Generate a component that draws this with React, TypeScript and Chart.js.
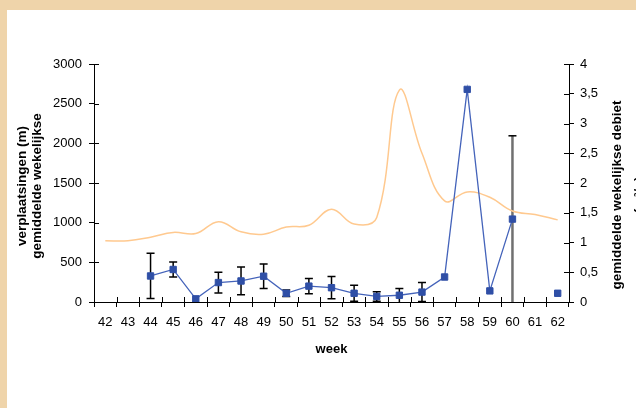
import { useEffect, useRef } from 'react';
import { Chart, registerables } from 'chart.js';
Chart.register(...registerables);

const weeks = ['42', '43', '44', '45', '46', '47', '48', '49', '50', '51', '52', '53', '54', '55', '56', '57', '58', '59', '60', '61', '62'];
const displacement = [null, null, 328, 410, 40, 245, 265, 325, 110, 200, 180, 110, 70, 85, 125, 315, 2680, 140, 1045, null, 110];
const displacementErr = [null, null, 285, 95, null, 130, 175, 155, 40, 95, 140, 100, 60, 85, 120, null, null, null, 1050, null, null];
const flow = [1.03, 1.03, 1.09, 1.17, 1.15, 1.35, 1.18, 1.14, 1.26, 1.29, 1.56, 1.31, 1.42, 3.56, 2.5, 1.7, 1.85, 1.76, 1.53, 1.47, 1.38];

const leftTitle = ['verplaatsingen (m)', 'gemiddelde wekelijkse'];
const rightTitle = ['gemiddelde wekelijkse debiet', '(m³/s)'];
const xTitle = 'week';

const FONT = '"Liberation Sans", Arial, sans-serif';

const decorPlugin = {
  id: 'decor',
  beforeDraw(chart: any) {
    const { ctx, width, height } = chart;
    ctx.save();
    ctx.fillStyle = '#EFD4AA';
    ctx.fillRect(0, 0, width, height);
    ctx.fillStyle = '#ffffff';
    ctx.fillRect(7, 10, width - 7, height - 10);
    ctx.restore();
  },
  beforeDatasetsDraw(chart: any) {
    const { ctx } = chart;
    const x = chart.scales.x;
    const y = chart.scales.y;
    ctx.save();
    displacementErr.forEach((e, i) => {
      const v = displacement[i];
      if (e == null || v == null) return;
      const px = x.getPixelForValue(i);
      const top = y.getPixelForValue(v + e);
      const bot = y.getPixelForValue(Math.max(v - e, 0));
      const big = e > 500;
      ctx.strokeStyle = big ? '#707070' : '#000000';
      ctx.lineWidth = big ? 2.5 : 1.5;
      ctx.beginPath();
      ctx.moveTo(px, top);
      ctx.lineTo(px, bot);
      ctx.stroke();
      ctx.strokeStyle = '#000000';
      ctx.lineWidth = 1.5;
      ctx.beginPath();
      ctx.moveTo(px - 4, top);
      ctx.lineTo(px + 4, top);
      if (v - e > 0) {
        ctx.moveTo(px - 4, bot);
        ctx.lineTo(px + 4, bot);
      }
      ctx.stroke();
    });
    ctx.restore();
  },
  afterDraw(chart: any) {
    const { ctx } = chart;
    const x = chart.scales.x;
    const y = chart.scales.y;
    const y1 = chart.scales.y1;
    ctx.save();
    ctx.strokeStyle = '#000';
    ctx.lineWidth = 1;
    ctx.beginPath();
    y.ticks.forEach((t: any) => {
      const py = Math.round(y.getPixelForValue(t.value)) + 0.5;
      ctx.moveTo(y.right, py);
      ctx.lineTo(y.right + 5, py);
    });
    y1.ticks.forEach((t: any) => {
      const py = Math.round(y1.getPixelForValue(t.value)) + 0.5;
      ctx.moveTo(y1.left - 5, py);
      ctx.lineTo(y1.left, py);
    });
    const n = weeks.length;
    for (let i = 0; i <= n; i++) {
      const px = Math.round(x.left + (i * x.width) / n) + 0.5;
      ctx.moveTo(px, x.top - 5);
      ctx.lineTo(px, x.top);
    }
    ctx.stroke();

    ctx.fillStyle = '#000';
    ctx.font = `bold 13.5px ${FONT}`;
    ctx.textAlign = 'center';
    ctx.textBaseline = 'middle';
    const cy = (chart.chartArea.top + chart.chartArea.bottom) / 2 + 3;
    leftTitle.forEach((line, i) => {
      ctx.save();
      ctx.translate(22 + i * 15.5, cy);
      ctx.rotate(-Math.PI / 2);
      ctx.fillText(line, 0, 0);
      ctx.restore();
    });
    rightTitle.forEach((line, i) => {
      ctx.save();
      ctx.translate(617 + i * 22, cy + 9);
      ctx.rotate(-Math.PI / 2);
      ctx.fillText(line, 0, 0);
      ctx.restore();
    });
    ctx.font = `bold 13px ${FONT}`;
    ctx.fillText(xTitle, (chart.chartArea.left + chart.chartArea.right) / 2, 349);
    ctx.restore();
  },
};

export default function App() {
  const ref = useRef<HTMLCanvasElement | null>(null);
  useEffect(() => {
    document.body.style.margin = '0';
    const canvas = ref.current;
    if (!canvas) return;
    const tickFont = { family: FONT, size: 13 };
    const chart = new Chart(canvas, {
      type: 'line',
      data: {
        labels: weeks,
        datasets: [
          {
            label: 'verplaatsingen',
            data: displacement,
            yAxisID: 'y',
            borderColor: '#4463BA',
            borderWidth: 1.3,
            backgroundColor: '#2F4FA6',
            pointBackgroundColor: '#2F4FA6',
            pointBorderColor: '#2F4FA6',
            pointBorderWidth: 1,
            pointStyle: 'rect',
            pointRadius: 4.5,
            spanGaps: false,
            tension: 0,
            order: 0,
          },
          {
            label: 'debiet',
            data: flow,
            yAxisID: 'y1',
            borderColor: '#FFC98F',
            borderWidth: 1.5,
            pointRadius: 0,
            tension: 0.4,
            fill: false,
            order: 1,
          },
        ],
      },
      options: {
        responsive: false,
        animation: false,
        devicePixelRatio: 1,
        layout: { padding: { top: 64, left: 0, right: 0, bottom: 0 } },
        plugins: { legend: { display: false }, tooltip: { enabled: false } },
        scales: {
          x: {
            type: 'category',
            offset: true,
            grid: { offset: true, drawOnChartArea: false, drawTicks: true, tickLength: 5, color: '#000', tickColor: '#000' },
            border: { display: true, color: '#000', width: 1 },
            ticks: { font: tickFont, color: '#000', padding: 8, maxRotation: 0, autoSkip: false },
            afterFit: (s: any) => { s.height = 106; },
          },
          y: {
            position: 'left',
            min: 0,
            max: 3000,
            ticks: { stepSize: 500, font: tickFont, color: '#000', padding: 7, callback: (v: any) => String(v) },
            grid: { drawOnChartArea: false, drawTicks: true, tickLength: 5, tickColor: '#000' },
            border: { display: true, color: '#000', width: 1 },
            afterFit: (s: any) => { s.width = 94; },
          },
          y1: {
            position: 'right',
            min: 0,
            max: 4,
            ticks: {
              stepSize: 0.5,
              font: tickFont,
              color: '#000',
              padding: 6,
              callback: (v: any) => String(v).replace('.', ','),
            },
            grid: { drawOnChartArea: false, drawTicks: true, tickLength: 5, tickColor: '#000' },
            border: { display: true, color: '#000', width: 1 },
            afterFit: (s: any) => { s.width = 67; },
          },
        },
      },
      plugins: [decorPlugin],
    });
    return () => chart.destroy();
  }, []);
  return (
    <div style={{ width: 636, height: 408 }}>
      <canvas ref={ref} width={636} height={408} style={{ display: 'block', width: 636, height: 408 }} />
    </div>
  );
}
